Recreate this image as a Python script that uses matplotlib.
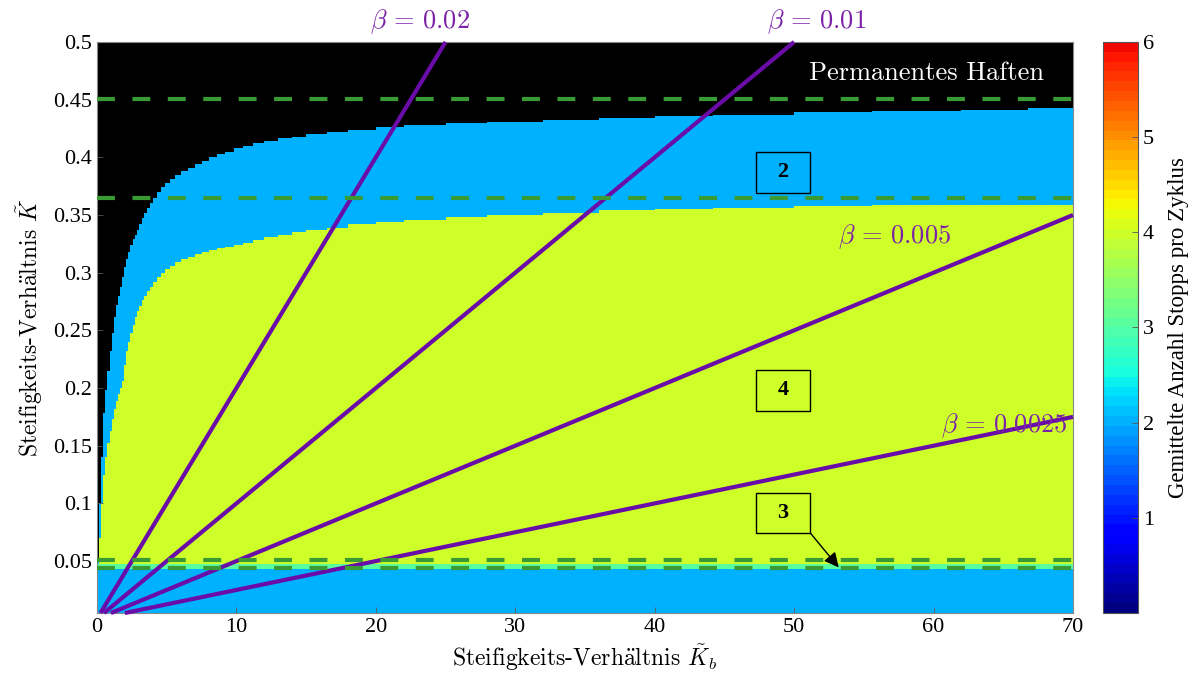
"""Stick-slip map: averaged stops per cycle over stiffness ratios, with beta lines."""
from __future__ import annotations

import matplotlib
matplotlib.use("Agg")
import matplotlib.pyplot as plt
import numpy as np
from matplotlib.colors import ListedColormap, Normalize
from matplotlib.patches import Rectangle
from matplotlib.ticker import FuncFormatter

# column edges of the raster (Kb) and the region boundaries read per column (K)
KB_EDGES = [0, 0.14, 0.29, 0.45, 0.6, 0.74, 0.9, 1.05, 1.2, 1.35,
            1.5, 1.65, 1.8, 1.95, 2.1, 2.25, 2.4, 2.55, 2.7, 2.85,
            3.0, 3.2, 3.4, 3.6, 3.8, 4.0, 4.3, 4.6, 4.9, 5.2,
            5.6, 6.0, 6.5, 7.0, 7.5, 8.0, 8.6, 9.2, 9.8, 10.5,
            11.2, 12.0, 13.0, 14.0, 15.0, 16.5, 18.0, 20.0, 22.0, 25.0,
            28.0, 32.0, 36.0, 40.0, 44.2, 50.0, 55.6, 62.0, 66.8, 70.0]
# upper edge of the 2-stop region (black = permanent sticking above)
K_TOP_2 = [0.050, 0.100, 0.140, 0.178, 0.198, 0.215, 0.232, 0.248, 0.262, 0.272,
           0.280, 0.288, 0.296, 0.305, 0.312, 0.318, 0.324, 0.329, 0.333, 0.337,
           0.342, 0.347, 0.352, 0.356, 0.360, 0.365, 0.370, 0.374, 0.378, 0.381,
           0.385, 0.388, 0.391, 0.394, 0.397, 0.400, 0.403, 0.405, 0.408, 0.410,
           0.412, 0.414, 0.4165, 0.418, 0.420, 0.422, 0.424, 0.426, 0.428, 0.4295,
           0.431, 0.4325, 0.434, 0.4355, 0.437, 0.439, 0.440, 0.441, 0.4425]
# upper edge of the 4-stop region
K_TOP_4 = [0.0475, 0.070, 0.100, 0.125, 0.140, 0.152, 0.163, 0.173, 0.182, 0.189,
           0.195, 0.200, 0.206, 0.220, 0.232, 0.240, 0.248, 0.255, 0.262, 0.267,
           0.271, 0.276, 0.280, 0.284, 0.288, 0.292, 0.296, 0.300, 0.303, 0.306,
           0.309, 0.312, 0.314, 0.316, 0.318, 0.3195, 0.321, 0.3225, 0.324, 0.326,
           0.328, 0.3305, 0.333, 0.335, 0.337, 0.339, 0.342, 0.344, 0.346, 0.348,
           0.350, 0.352, 0.354, 0.355, 0.3564, 0.3574, 0.3585, 0.3585, 0.3585]
# thin 3-stop band near the bottom
K_BAND_3 = (0.0432, 0.0475)
STOPS_LOW, STOPS_BAND, STOPS_MID, STOPS_HIGH = 2.0, 3.0, 4.0, 2.0

# beta lines K = beta * Kb, endpoints as drawn
BETAS = ["0.02", "0.01", "0.005", "0.0025"]
LINE_KB = [(0.25, 25.0), (0.5, 50.0), (1.0, 70.0), (2.0, 70.0)]
LINE_K = [(0.005, 0.5), (0.005, 0.5), (0.005, 0.35), (0.005, 0.175)]
BETA_LABEL_POS = [(23.2, 0.518), (51.6, 0.518), (57.2, 0.331), (65.1, 0.167)]

# green dashed reference levels
DASHED_K = [0.4503, 0.3650, 0.0507, 0.0443]

# boxed region labels
BOX_LABELS = ["2", "4", "3"]
BOX_CENTERS = [(49.2, 0.387), (49.2, 0.198), (49.2, 0.0917)]

PURPLE = "#6a0ca8"
PURPLE_TEXT = "#7b22a6"
GREEN = "#3a9a33"
TIMES = "Liberation Serif"
CM = "cmr10"


def build_grid():
    kb = np.asarray(KB_EDGES, dtype=float)
    k_edges = np.linspace(0.005, 0.5, 991)
    k_mid = 0.5 * (k_edges[:-1] + k_edges[1:])[:, None]
    top2 = np.asarray(K_TOP_2)[None, :]
    top4 = np.asarray(K_TOP_4)[None, :]
    z = np.full((len(k_mid), len(top2[0])), np.nan)
    z = np.where(k_mid < top2, STOPS_HIGH, z)
    z = np.where(k_mid < top4, STOPS_MID, z)
    z = np.where(k_mid < K_BAND_3[1], STOPS_BAND, z)
    z = np.where(k_mid < K_BAND_3[0], STOPS_LOW, z)
    return kb, k_edges, np.ma.masked_invalid(z)


def main() -> None:
    plt.rcParams["mathtext.fontset"] = "cm"
    plt.rcParams["axes.formatter.use_mathtext"] = True

    fig = plt.figure(figsize=(11.99, 6.79), dpi=100)
    ax = fig.add_axes([0.0809, 0.0972, 0.8140, 0.8410])
    cax = fig.add_axes([0.920, 0.0972, 0.029, 0.8410])

    base = plt.get_cmap("jet")(np.linspace(0.0, 0.9, 58))
    cmap = ListedColormap(base).with_extremes(bad="black")
    norm = Normalize(vmin=0, vmax=6)

    kb, k_edges, z = build_grid()
    mesh = ax.pcolormesh(kb, k_edges, z, cmap=cmap, norm=norm, shading="flat", zorder=1)
    ax.set_facecolor("black")

    for (x0, x1), (y0, y1) in zip(LINE_KB, LINE_K):
        ax.plot([x0, x1], [y0, y1], color=PURPLE, linewidth=3.0, solid_capstyle="butt", zorder=3, clip_on=False)

    for level in DASHED_K:
        ax.plot([0, 70], [level, level], color=GREEN, linewidth=3.0,
                linestyle=(0, (4.3, 4.2)), zorder=4)

    for beta, (tx, ty) in zip(BETAS, BETA_LABEL_POS):
        ax.text(tx, ty, rf"$\beta\,=\,{beta}$", color=PURPLE_TEXT, fontsize=19,
                ha="center", va="center", zorder=6, clip_on=False)

    ax.text(59.5, 0.473, "Permanentes Haften", color="white", fontsize=19,
            family=CM, ha="center", va="center", zorder=6)

    for label, (cx, cy) in zip(BOX_LABELS, BOX_CENTERS):
        ax.add_patch(Rectangle((cx - 1.97, cy - 0.0175), 3.94, 0.035, fill=False,
                               edgecolor="black", linewidth=1.0, zorder=5))
        ax.text(cx, cy, label, fontsize=16, fontweight="bold", family=TIMES,
                ha="center", va="center", zorder=6)

    ax.annotate("", xy=(53.2, 0.0445), xytext=(51.17, 0.0742),
                arrowprops=dict(arrowstyle="-|>", color="black", lw=1.0, mutation_scale=22,
                                shrinkA=0, shrinkB=0), zorder=6)

    ax.set_xlim(0, 70)
    ax.set_ylim(0.005, 0.5)
    ax.set_xticks(np.arange(0, 71, 10))
    ax.set_yticks(np.arange(0.05, 0.501, 0.05))
    ax.yaxis.set_major_formatter(FuncFormatter(lambda v, _: f"{v:g}"))
    ax.xaxis.set_major_formatter(FuncFormatter(lambda v, _: f"{v:g}"))
    ax.tick_params(direction="in", length=4, width=0.6, color="#555555", labelsize=16)
    for lab in ax.get_xticklabels() + ax.get_yticklabels():
        lab.set_family(TIMES)
    for spine in ax.spines.values():
        spine.set_color("#888888")
        spine.set_linewidth(0.8)

    ax.set_xlabel(r"Steifigkeits-Verh$\ddot{\mathrm{a}}$ltnis $\tilde{K}_b$", family=CM, fontsize=17, labelpad=4)
    ax.set_ylabel(r"Steifigkeits-Verh$\ddot{\mathrm{a}}$ltnis $\tilde{K}$", family=CM, fontsize=17, labelpad=6)

    cbar = fig.colorbar(mesh, cax=cax)
    cbar.set_ticks([1, 2, 3, 4, 5, 6])
    cbar.ax.yaxis.set_major_formatter(FuncFormatter(lambda v, _: f"{v:g}"))
    cbar.ax.tick_params(direction="in", length=4, width=0.6, color="#555555", labelsize=16)
    for lab in cbar.ax.get_yticklabels():
        lab.set_family(TIMES)
    cbar.outline.set_edgecolor("#555555")
    cbar.outline.set_linewidth(0.8)
    cbar.set_label("Gemittelte Anzahl Stopps pro Zyklus", family=TIMES, fontsize=16.5, labelpad=10)

    fig.savefig("out.png", dpi=100)
    plt.close(fig)


if __name__ == "__main__":
    main()
